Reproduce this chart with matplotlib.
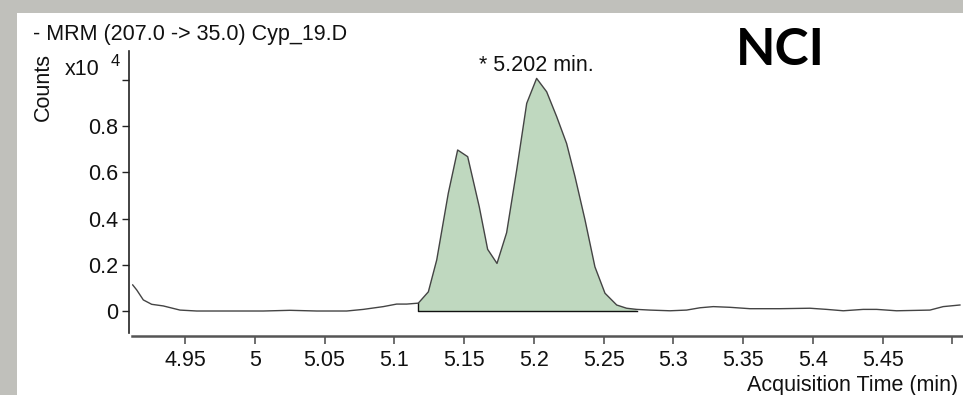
import matplotlib
matplotlib.use("Agg")
import matplotlib.pyplot as plt
from matplotlib.patches import Rectangle
import numpy as np

# ---- data (counts in units of 10^4) ----
time_min = [4.9125, 4.9154, 4.9201, 4.9261, 4.9344, 4.9464, 4.9584, 5.0061, 5.0252, 5.0444,
            5.0659, 5.0778, 5.0921, 5.1017, 5.1089, 5.1172, 5.1244, 5.1304, 5.1387, 5.1454,
            5.1526, 5.1609, 5.1669, 5.1736, 5.1805, 5.1877, 5.1949, 5.2020, 5.2092, 5.2164,
            5.2235, 5.2295, 5.2367, 5.2438, 5.2510, 5.2594, 5.2665, 5.2737, 5.2832, 5.2976,
            5.3095, 5.3191, 5.3286, 5.3406, 5.3549, 5.3764, 5.3979, 5.4099, 5.4218, 5.4361,
            5.4457, 5.4600, 5.4839, 5.4934, 5.5054]
counts_e4 = [0.113, 0.091, 0.048, 0.029, 0.022, 0.004, 0.000, 0.000, 0.003, 0.000,
             0.000, 0.007, 0.019, 0.030, 0.030, 0.034, 0.083, 0.221, 0.510, 0.697,
             0.668, 0.451, 0.267, 0.206, 0.339, 0.610, 0.899, 1.007, 0.949, 0.841,
             0.725, 0.582, 0.394, 0.191, 0.077, 0.026, 0.012, 0.007, 0.004, 0.001,
             0.004, 0.014, 0.019, 0.016, 0.010, 0.010, 0.012, 0.007, 0.001, 0.007,
             0.007, 0.001, 0.004, 0.019, 0.026]
peak_start = 5.1172
peak_end = 5.2737
xtick_vals = [4.95, 5.0, 5.05, 5.1, 5.15, 5.2, 5.25, 5.3, 5.35, 5.4, 5.45, 5.5]
xtick_labels = ["4.95", "5", "5.05", "5.1", "5.15", "5.2", "5.25", "5.3", "5.35", "5.4", "5.45", ""]
ytick_vals = [0, 0.2, 0.4, 0.6, 0.8, 1.0]
ytick_labels = ["0", "0.2", "0.4", "0.6", "0.8", ""]

W, H = 963, 395
plt.rcParams['font.family'] = ['Liberation Sans', 'DejaVu Sans']
fig = plt.figure(figsize=(W / 100, H / 100), dpi=100, facecolor="#c0c0bb")

def fx(px):
    return px / W

def fy(py):
    return 1 - py / H

# white panel
fig.patches.append(Rectangle((fx(17), 0), 1 - fx(17), fy(13), transform=fig.transFigure,
                             facecolor="white", edgecolor="none", zorder=-10))

ax = fig.add_axes([fx(132), fy(333), fx(963) - fx(132), fy(51) - fy(333)])
ax.set_zorder(2)
ax.set_facecolor("none")

t = np.array(time_min)
c = np.array(counts_e4)
mask = (t >= peak_start - 1e-9) & (t <= peak_end + 1e-9)
ax.fill_between(t[mask], c[mask], 0, facecolor="#bfd8bf", edgecolor="none", zorder=1)
ax.plot(t, c, color="#444444", lw=1.0, zorder=3)
ax.plot([peak_start, peak_start, peak_end], [c[mask][0], 0, 0], color="#111111", lw=1.0, zorder=2)

ax.set_xlim(4.912, 5.5076)
ax.set_ylim(-0.0952, 1.1255)

ax.set_xticks(xtick_vals)
ax.set_xticklabels(xtick_labels)
ax.set_yticks(ytick_vals)
ax.set_yticklabels(ytick_labels)

for s in ["top", "right"]:
    ax.spines[s].set_visible(False)
ax.spines["left"].set_position(("outward", 2.2))
ax.spines["bottom"].set_position(("outward", 2.2))
ax.spines["left"].set_color("#222222")
ax.spines["left"].set_linewidth(1.2)
ax.spines["bottom"].set_color("#555555")
ax.spines["bottom"].set_linewidth(1.8)

ax.tick_params(axis="y", direction="out", length=5, width=1.0, color="#222222",
               labelsize=15.5, labelcolor="#111111", pad=3)
ax.tick_params(axis="x", direction="out", length=6, width=1.2, color="#555555",
               labelsize=15.5, labelcolor="#111111", pad=4)

# texts
FS = 15.5
fig.text(fx(33), fy(40), "- MRM (207.0 -> 35.0) Cyp_19.D", fontsize=FS,
         color="#111111", ha="left", va="baseline")
fig.text(fx(65), fy(75), "x10", fontsize=FS, color="#111111", ha="left", va="baseline")
fig.text(fx(111), fy(66), "4", fontsize=12, color="#111111", ha="left", va="baseline")
fig.text(fx(43), fy(87), "Counts", fontsize=FS, rotation=90, color="#111111",
         ha="center", va="center")
fig.text(fx(479), fy(71), "* 5.202 min.", fontsize=FS, color="#111111",
         ha="left", va="baseline")
fig.text(fx(780), fy(65), "NCI", fontsize=37, fontweight="bold", family="Lato",
         color="black", ha="center", va="baseline")
fig.text(fx(958), fy(391), "Acquisition Time (min)", fontsize=FS, color="#111111",
         ha="right", va="baseline")

fig.savefig("out.png", dpi=100, facecolor=fig.get_facecolor())
